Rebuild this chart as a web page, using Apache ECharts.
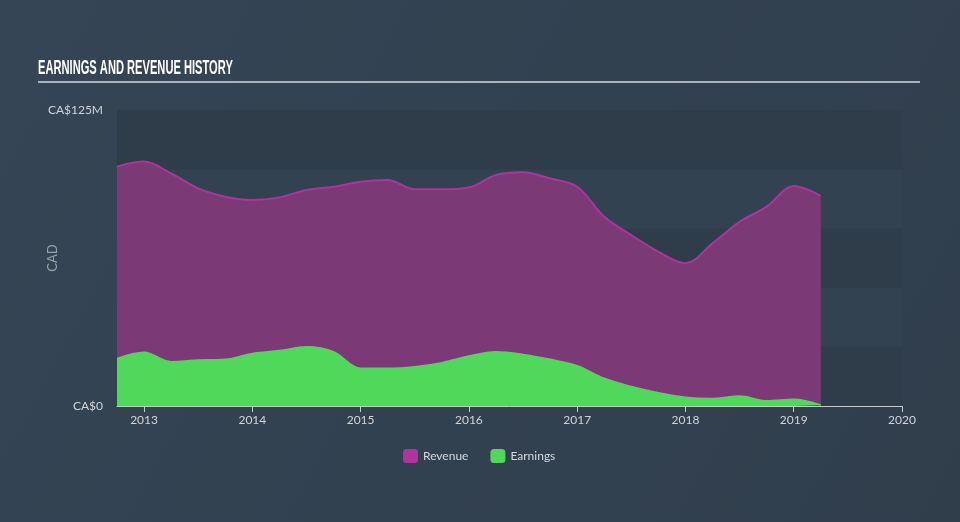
<!DOCTYPE html>
<html>
<head>
<meta charset="utf-8">
<script src="https://cdn.jsdelivr.net/npm/echarts@6/dist/echarts.min.js"></script>
<style>
html,body{margin:0;padding:0;background:#344352;}
#chart{width:960px;height:522px;}
</style>
</head>
<body>
<div id="chart"></div>
<script>
// Quarterly periods (decimal years)
const periods = [2012.75,2013.0,2013.25,2013.5,2013.75,2014.0,2014.25,2014.5,2014.75,2015.0,2015.25,2015.5,2015.75,2016.0,2016.25,2016.5,2016.75,2017.0,2017.25,2017.5,2017.75,2018.0,2018.25,2018.5,2018.75,2019.0,2019.25];
// Revenue, CA$ millions
const revenue = [101.1,103.2,98.2,91.9,88.4,87.0,88.1,91.2,92.6,94.7,95.4,91.5,91.5,92.3,97.6,98.7,96.1,92.6,79.9,72.2,65.2,60.3,68.7,77.8,84.2,92.9,88.7];
// Earnings, CA$ millions
const earnings = [20.1,22.7,18.7,19.4,19.7,22.2,23.4,25.0,22.9,15.9,15.9,16.6,18.3,21.1,22.9,21.8,19.7,17.0,11.7,8.2,5.6,3.7,3.2,4.2,2.2,2.8,0.4];
// Axis ticks
const yearTicks = [2013,2014,2015,2016,2017,2018,2019,2020];
const yLabels = {0:'CA$0',125:'CA$125M'};
const titleText = 'EARNINGS AND REVENUE HISTORY';

const chart = echarts.init(document.getElementById('chart'));
const font = 'Lato, "Noto Sans", sans-serif';
chart.setOption({
  backgroundColor: new echarts.graphic.LinearGradient(0,0,1,1,[{offset:0,color:'#354555'},{offset:1,color:'#303e4c'}]),
  animation:false,
  graphic:[
    {type:'text',left:38,top:58,scaleX:0.53,originX:0,
     style:{text:titleText,fill:'#ffffff',font:'bold 21px "Liberation Sans", Arial, sans-serif'}},
    {type:'rect',shape:{x:38,y:81,width:882,height:2},style:{fill:'#aab2ba'}}
  ],
  legend:{
    bottom:54, left:398,
    itemWidth:15, itemHeight:14, itemGap:22,
    icon:'roundRect',
    textStyle:{color:'#d4d8dc',fontFamily:font,fontSize:12},
    data:[{name:'Revenue',itemStyle:{color:'#b0359e'}},{name:'Earnings',itemStyle:{color:'#50d85a'}}]
  },
  grid:{left:117,right:58,top:110,bottom:116},
  xAxis:{
    type:'value', min:2012.75, max:2020,
    axisLine:{show:true,lineStyle:{color:'#c4cad0',width:1}},
    axisTick:{show:true,length:6,lineStyle:{color:'#c4cad0'},customValues:yearTicks},
    axisLabel:{color:'#d0d4d8',fontFamily:font,fontSize:12,margin:8,customValues:yearTicks,formatter:v=>String(Math.round(v))},
    splitLine:{show:false}
  },
  yAxis:{
    type:'value', min:0, max:125, interval:25,
    name:'CAD', nameLocation:'middle', nameGap:58, nameRotate:90, nameMoveOverlap:false,
    nameTextStyle:{color:'#98a2ac',fontFamily:font,fontSize:13},
    axisLine:{show:false}, axisTick:{show:false},
    axisLabel:{color:'#d0d4d8',fontFamily:font,fontSize:12,margin:14,formatter:v=>yLabels[v]||''},
    splitLine:{show:false},
    splitArea:{show:true,areaStyle:{color:['#2f3c4a','#334251']}}
  },
  series:[
    {name:'Revenue',type:'line',smooth:0.35,symbol:'none',
     data:periods.map((p,i)=>[p,revenue[i]]),
     lineStyle:{color:'#b0339d',width:2},
     itemStyle:{color:'#b0359e'},
     areaStyle:{color:'#7b3a76',opacity:1}},
    {name:'Earnings',type:'line',smooth:0.35,symbol:'none',
     data:periods.map((p,i)=>[p,earnings[i]]),
     lineStyle:{color:'#50d85a',width:1.5},
     itemStyle:{color:'#50d85a'},
     areaStyle:{color:'#50d85a',opacity:1}}
  ]
});
</script>
</body>
</html>
